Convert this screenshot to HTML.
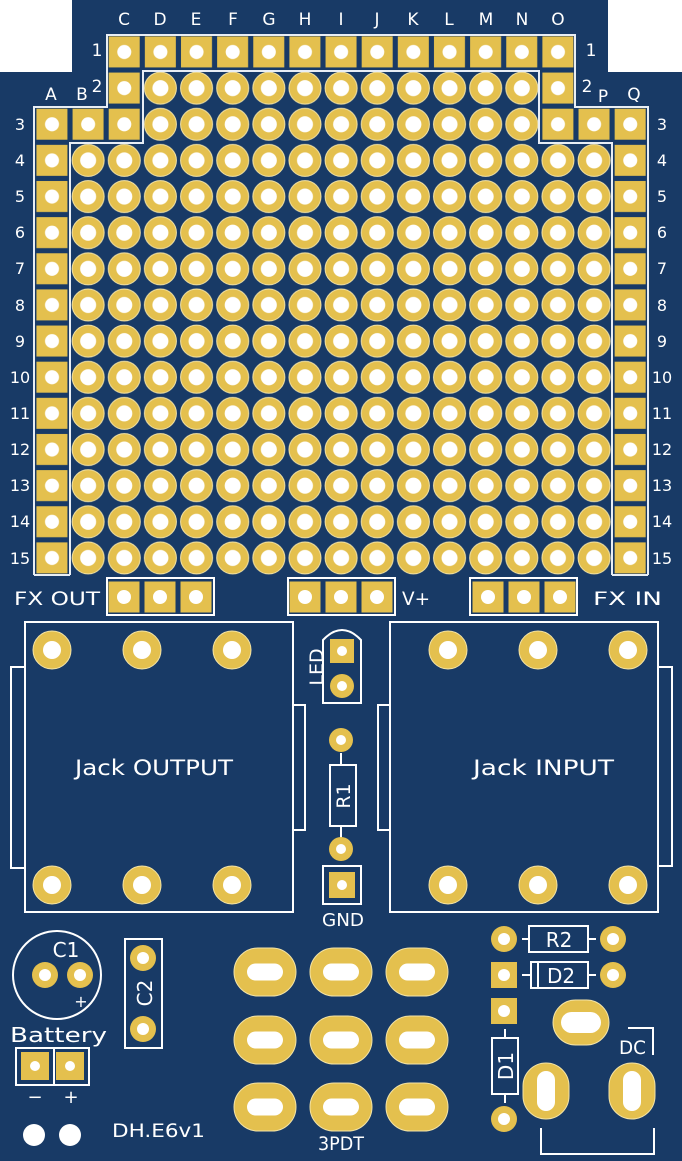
<!DOCTYPE html>
<html><head><meta charset="utf-8"><style>
html,body{margin:0;padding:0;background:#fff}
svg{display:block}
text{font-family:"DejaVu Sans","Liberation Sans",sans-serif;fill:#fff}
</style></head><body>
<svg width="682" height="1161" viewBox="0 0 682 1161" xmlns="http://www.w3.org/2000/svg">
<defs>
<pattern id="rp" patternUnits="userSpaceOnUse" x="33.93" y="33.93" width="36.14" height="36.14">
<circle cx="18.07" cy="18.07" r="16" fill="#e4c04e" stroke="#f3e3a6" stroke-width="1"/>
<circle cx="18.07" cy="18.07" r="8" fill="#fff"/>
</pattern>
<pattern id="sp" patternUnits="userSpaceOnUse" x="33.93" y="33.93" width="36.14" height="36.14">
<rect x="2.5" y="2.5" width="31" height="31" fill="#e4c04e"/>
<circle cx="18.07" cy="18.07" r="7" fill="#fff"/>
</pattern>
<g id="sq"><rect x="-15.5" y="-15.5" width="31" height="31" fill="#e4c04e"/><circle r="7" fill="#fff"/></g>
<g id="jk"><circle r="19" fill="#e4c04e" stroke="#f3e3a6" stroke-width="1"/><circle r="9" fill="#fff"/></g>
<g id="ov"><rect x="-31" y="-24" width="62" height="48" rx="24" fill="#e4c04e" stroke="#f3e3a6" stroke-width="1"/><rect x="-18" y="-8.5" width="36" height="17" rx="8.5" fill="#fff"/></g>
</defs>
<rect width="682" height="1161" fill="#183a66"/>
<rect x="0" y="0" width="72" height="72" fill="#fff"/>
<rect x="608" y="0" width="74" height="72" fill="#fff"/>

<rect x="142.3" y="70" width="397.6" height="72.3" fill="url(#rp)"/>
<rect x="70.1" y="142.3" width="542" height="433.7" fill="url(#rp)"/>
<rect x="106.2" y="33.93" width="469.8" height="36.14" fill="url(#sp)"/>
<rect x="106.2" y="70.07" width="36.14" height="36.14" fill="url(#sp)"/>
<rect x="33.93" y="106.2" width="108.4" height="36.14" fill="url(#sp)"/>
<rect x="539.9" y="70.07" width="36.14" height="72.3" fill="url(#sp)"/>
<rect x="576" y="106.2" width="72.3" height="36.14" fill="url(#sp)"/>
<rect x="33.93" y="142.3" width="36.14" height="433.7" fill="url(#sp)"/>
<rect x="612.1" y="142.3" width="36.14" height="433.7" fill="url(#sp)"/>

<g fill="none" stroke="#e8eef5" stroke-width="2">
<path d="M34,575 V107 H107 V35 H575 V107 H648 V575"/>
<path d="M70,575 V143 H143 V71 H539 V143 H612 V575"/>
<path d="M34,575 H70 M612,575 H648"/>
</g>
<g stroke="#fff" stroke-width="2" fill="none">
<rect x="107" y="578" width="107" height="37"/>
<rect x="288" y="578" width="107" height="37"/>
<rect x="470" y="578" width="107" height="37"/>
</g>
<use href="#sq" x="124" y="597"/><use href="#sq" x="160" y="597"/><use href="#sq" x="196" y="597"/>
<use href="#sq" x="305" y="597"/><use href="#sq" x="341" y="597"/><use href="#sq" x="377" y="597"/>
<use href="#sq" x="488" y="597"/><use href="#sq" x="524" y="597"/><use href="#sq" x="560" y="597"/>

<g font-size="17" text-anchor="middle">
<text x="124" y="25">C</text><text x="160" y="25">D</text><text x="196" y="25">E</text><text x="233" y="25">F</text><text x="269" y="25">G</text><text x="305" y="25">H</text><text x="341" y="25">I</text><text x="377" y="25">J</text><text x="413" y="25">K</text><text x="449" y="25">L</text><text x="486" y="25">M</text><text x="522" y="25">N</text><text x="558" y="25">O</text>
<text x="51" y="100">A</text><text x="82" y="100">B</text><text x="97" y="92">2</text><text x="587" y="92">2</text><text x="603" y="102">P</text><text x="634" y="100">Q</text>
<text x="97" y="56">1</text><text x="591" y="56">1</text>
</g>
<g font-size="16" text-anchor="middle">
<text x="20" y="130">3</text><text x="20" y="166">4</text><text x="20" y="202">5</text><text x="20" y="238">6</text><text x="20" y="274">7</text><text x="20" y="311">8</text><text x="20" y="347">9</text><text x="20" y="383">10</text><text x="20" y="419">11</text><text x="20" y="455">12</text><text x="20" y="491">13</text><text x="20" y="527">14</text><text x="20" y="564">15</text>
<text x="662" y="130">3</text><text x="662" y="166">4</text><text x="662" y="202">5</text><text x="662" y="238">6</text><text x="662" y="274">7</text><text x="662" y="311">8</text><text x="662" y="347">9</text><text x="662" y="383">10</text><text x="662" y="419">11</text><text x="662" y="455">12</text><text x="662" y="491">13</text><text x="662" y="527">14</text><text x="662" y="564">15</text>
</g>
<g font-size="19">
<text x="14" y="605" textLength="86" lengthAdjust="spacingAndGlyphs">FX OUT</text>
<text x="402" y="605" textLength="28" lengthAdjust="spacingAndGlyphs">V+</text>
<text x="593" y="605" textLength="69" lengthAdjust="spacingAndGlyphs">FX IN</text>
</g>

<g stroke="#fff" stroke-width="2" fill="none">
<rect x="25" y="622" width="268" height="290"/>
<path d="M25,667 H11 V868 H25"/>
<path d="M293,705 H305 V830 H293"/>
<rect x="390" y="622" width="268" height="290"/>
<path d="M390,705 H378 V830 H390"/>
<path d="M658,667 H672 V866 H658"/>
<path d="M323,703 V640 Q342,620 361,640 V703 Z"/>
<rect x="330" y="765" width="26" height="61"/>
<path d="M341,753 V765 M341,826 V838"/>
<rect x="323" y="866" width="38" height="38"/>
</g>
<use href="#jk" x="52" y="650"/><use href="#jk" x="142" y="650"/><use href="#jk" x="232" y="650"/>
<use href="#jk" x="52" y="885"/><use href="#jk" x="142" y="885"/><use href="#jk" x="232" y="885"/>
<use href="#jk" x="448" y="650"/><use href="#jk" x="538" y="650"/><use href="#jk" x="628" y="650"/>
<use href="#jk" x="448" y="885"/><use href="#jk" x="538" y="885"/><use href="#jk" x="628" y="885"/>
<g transform="translate(342,651)"><rect x="-12" y="-12" width="24" height="24" fill="#e4c04e"/><circle r="5" fill="#fff"/></g>
<g transform="translate(342,686)"><circle r="12" fill="#e4c04e"/><circle r="5" fill="#fff"/></g>
<g transform="translate(341,740)"><circle r="12" fill="#e4c04e"/><circle r="5" fill="#fff"/></g>
<g transform="translate(341,849)"><circle r="12" fill="#e4c04e"/><circle r="5" fill="#fff"/></g>
<g transform="translate(342,885)"><rect x="-13" y="-13" width="26" height="26" fill="#e4c04e"/><circle r="5" fill="#fff"/></g>
<g font-size="21">
<text x="75" y="775" textLength="158" lengthAdjust="spacingAndGlyphs">Jack OUTPUT</text>
<text x="473" y="775" textLength="141" lengthAdjust="spacingAndGlyphs">Jack INPUT</text>
</g>
<text x="316" y="667" font-size="19" text-anchor="middle" transform="rotate(-90 316 667)" dy="7">LED</text>
<text x="343" y="796" font-size="19" text-anchor="middle" transform="rotate(-90 343 796)" dy="7">R1</text>
<text x="322" y="926" font-size="18" textLength="42" lengthAdjust="spacingAndGlyphs">GND</text>

<circle cx="57" cy="975" r="44" fill="none" stroke="#fff" stroke-width="2"/>
<g transform="translate(45,975)"><circle r="13" fill="#e4c04e"/><circle r="6" fill="#fff"/></g>
<g transform="translate(80,975)"><circle r="13" fill="#e4c04e"/><circle r="6" fill="#fff"/></g>
<text x="66" y="957" font-size="20" text-anchor="middle">C1</text>
<text x="81" y="1007" font-size="16" text-anchor="middle">+</text>
<rect x="125" y="939" width="37" height="109" fill="none" stroke="#fff" stroke-width="2"/>
<g transform="translate(143,958)"><circle r="13" fill="#e4c04e"/><circle r="6" fill="#fff"/></g>
<g transform="translate(143,1029)"><circle r="13" fill="#e4c04e"/><circle r="6" fill="#fff"/></g>
<text x="145" y="993" font-size="20" text-anchor="middle" transform="rotate(-90 145 993)" dy="7">C2</text>
<text x="10" y="1042" font-size="20" textLength="97" lengthAdjust="spacingAndGlyphs">Battery</text>
<g stroke="#fff" stroke-width="2" fill="none"><rect x="16" y="1048" width="73" height="37"/><path d="M54,1048 V1085"/></g>
<g transform="translate(35,1066)"><rect x="-14" y="-14" width="28" height="28" fill="#e4c04e"/><circle r="5" fill="#fff"/></g>
<g transform="translate(70,1066)"><rect x="-14" y="-14" width="28" height="28" fill="#e4c04e"/><circle r="5" fill="#fff"/></g>
<text x="35" y="1103" font-size="18" text-anchor="middle">−</text>
<text x="71" y="1103" font-size="18" text-anchor="middle">+</text>
<circle cx="34" cy="1135" r="11" fill="#fff"/><circle cx="70" cy="1135" r="11" fill="#fff"/>
<text x="112" y="1137" font-size="19" textLength="93" lengthAdjust="spacingAndGlyphs">DH.E6v1</text>

<use href="#ov" x="265" y="972"/><use href="#ov" x="341" y="972"/><use href="#ov" x="417" y="972"/>
<use href="#ov" x="265" y="1040"/><use href="#ov" x="341" y="1040"/><use href="#ov" x="417" y="1040"/>
<use href="#ov" x="265" y="1107"/><use href="#ov" x="341" y="1107"/><use href="#ov" x="417" y="1107"/>
<text x="318" y="1150" font-size="19" textLength="46" lengthAdjust="spacingAndGlyphs">3PDT</text>

<g stroke="#fff" stroke-width="2" fill="none">
<rect x="529" y="926" width="59" height="26"/>
<path d="M522,939 H529 M588,939 H596"/>
<rect x="531" y="962" width="57" height="26"/>
<path d="M538,962 V988 M522,975 H531 M588,975 H596"/>
<rect x="492" y="1038" width="26" height="56"/>
<path d="M505,1029 V1038 M505,1094 V1103"/>
<path d="M628,1028 H653 V1055"/>
<path d="M541,1128 V1154 H654 V1128"/>
</g>
<g transform="translate(504,939)"><circle r="13" fill="#e4c04e"/><circle r="6" fill="#fff"/></g>
<g transform="translate(613,939)"><circle r="13" fill="#e4c04e"/><circle r="6" fill="#fff"/></g>
<g transform="translate(504,975)"><rect x="-13" y="-13" width="26" height="26" fill="#e4c04e"/><circle r="6" fill="#fff"/></g>
<g transform="translate(613,975)"><circle r="13" fill="#e4c04e"/><circle r="6" fill="#fff"/></g>
<g transform="translate(504,1011)"><rect x="-13" y="-13" width="26" height="26" fill="#e4c04e"/><circle r="6" fill="#fff"/></g>
<g transform="translate(504,1119)"><circle r="13" fill="#e4c04e"/><circle r="6" fill="#fff"/></g>
<text x="559" y="947" font-size="20" text-anchor="middle">R2</text>
<text x="561" y="983" font-size="20" text-anchor="middle">D2</text>
<text x="506" y="1066" font-size="20" text-anchor="middle" transform="rotate(-90 506 1066)" dy="7">D1</text>
<text x="619" y="1054" font-size="19" textLength="27" lengthAdjust="spacingAndGlyphs">DC</text>
<rect x="553" y="1000" width="56" height="45" rx="22.5" fill="#e4c04e" stroke="#f3e3a6"/>
<rect x="561" y="1012" width="40" height="21" rx="10.5" fill="#fff"/>
<rect x="523" y="1063" width="46" height="56" rx="23" fill="#e4c04e" stroke="#f3e3a6"/>
<rect x="537" y="1071" width="18" height="40" rx="9" fill="#fff"/>
<rect x="609" y="1063" width="46" height="56" rx="23" fill="#e4c04e" stroke="#f3e3a6"/>
<rect x="623" y="1071" width="18" height="40" rx="9" fill="#fff"/>
</svg>
</body></html>
